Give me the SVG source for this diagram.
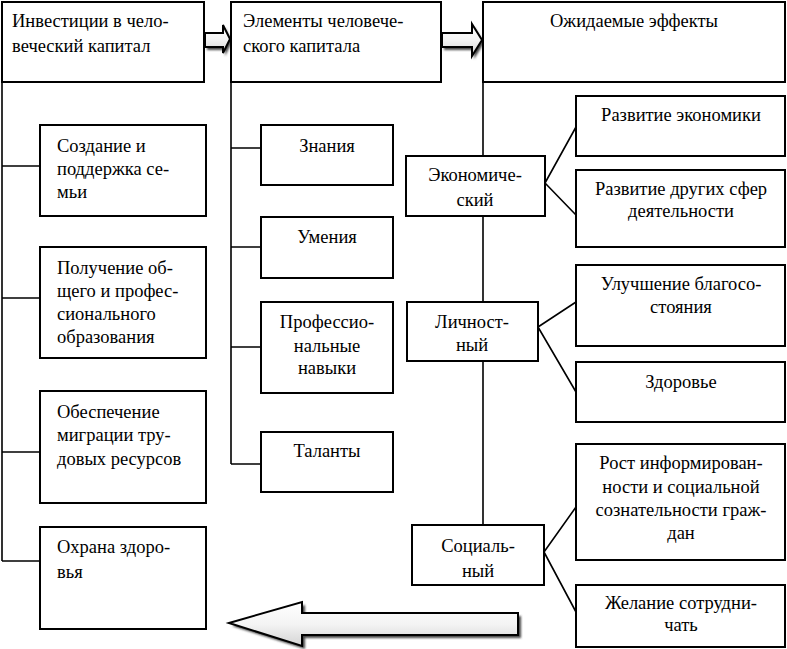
<svg xmlns="http://www.w3.org/2000/svg" width="787" height="649" viewBox="0 0 787 649">
<defs>
<linearGradient id="ag" x1="0" y1="0" x2="0" y2="1">
<stop offset="0" stop-color="#ffffff"/>
<stop offset="0.5" stop-color="#f4f4f4"/>
<stop offset="1" stop-color="#d4d4d4"/>
</linearGradient>
<filter id="sh" x="-10%" y="-30%" width="130%" height="180%">
<feGaussianBlur stdDeviation="1"/>
</filter>
</defs>
<style>
.b{fill:#fff;stroke:#000;stroke-width:2}
.c{stroke:#000;stroke-width:1.6;fill:none}
.t text{font-size:18.5px;fill:#000}
.m{text-anchor:middle}
.arr{fill:url(#ag);stroke:#000;stroke-width:2;stroke-linejoin:miter}
.shd{fill:#444;filter:url(#sh)}
</style>
<rect width="787" height="649" fill="#fff"/>

<g id="connectors">
<path class="c" d="M2,82 V561 M2,166 H40 M2,298 H40 M2,452 H40 M2,561 H40"/>
<path class="c" d="M231,82 V464 M231,148 H261 M231,247 H261 M231,347 H261 M231,464 H261"/>
<path class="c" d="M483,82 V156 M483,216 V302 M483,361 V525"/>
<path class="c" d="M545,183 L576,127 M545,183 L576,215"/>
<path class="c" d="M538,327 L576,302 M538,327 L576,392"/>
<path class="c" d="M544,552 L576,507 M544,552 L576,612"/>
</g>

<g id="arrow1">
<path class="shd" transform="translate(2,3)" d="M205,33 H223 V25 L230,39 L223,53 V47 H205 Z"/>
<path class="arr" d="M205,33 H223 V25 L230,39 L223,53 V47 H205 Z"/>
</g>
<g id="arrow2">
<path class="shd" transform="translate(2,3)" d="M442,33 H472 V24 L482,40 L472,56 V47 H442 Z"/>
<path class="arr" d="M442,33 H472 V24 L482,40 L472,56 V47 H442 Z"/>
</g>
<g id="arrow-bottom">
<path class="shd" transform="translate(3,3)" d="M229,623 L302,602 V613 H518 V635 H302 V646 Z"/>
<path class="arr" d="M229,623 L302,602 V613 H518 V635 H302 V646 Z"/>
</g>

<g class="t" font-family="Liberation Serif">
<g id="n-invest">
<rect class="b" x="2" y="2" width="202" height="80"/>
<text x="12" y="27">Инвестиции в чело-</text>
<text x="12" y="52">веческий капитал</text>
</g>
<g id="n-elements">
<rect class="b" x="231" y="2" width="210" height="80"/>
<text x="243" y="27">Элементы человече-</text>
<text x="243" y="52">ского капитала</text>
</g>
<g id="n-effects">
<rect class="b" x="483" y="2" width="302" height="80"/>
<text class="m" x="634" y="27">Ожидаемые эффекты</text>
</g>

<g id="n-family">
<rect class="b" x="40" y="125" width="166" height="91"/>
<text x="57" y="152">Создание и</text>
<text x="57" y="175">поддержка се-</text>
<text x="57" y="198">мьи</text>
</g>
<g id="n-education">
<rect class="b" x="40" y="247" width="166" height="111"/>
<text x="57" y="274">Получение об-</text>
<text x="57" y="297">щего и профес-</text>
<text x="57" y="320">сионального</text>
<text x="57" y="343">образования</text>
</g>
<g id="n-migration">
<rect class="b" x="40" y="391" width="166" height="112"/>
<text x="57" y="418">Обеспечение</text>
<text x="57" y="441">миграции тру-</text>
<text x="57" y="465">довых ресурсов</text>
</g>
<g id="n-health-care">
<rect class="b" x="40" y="527" width="166" height="102"/>
<text x="57" y="553">Охрана здоро-</text>
<text x="57" y="578">вья</text>
</g>

<g id="n-knowledge">
<rect class="b" x="261" y="125" width="132" height="60"/>
<text class="m" x="327" y="152">Знания</text>
</g>
<g id="n-skills">
<rect class="b" x="261" y="217" width="132" height="61"/>
<text class="m" x="327" y="243">Умения</text>
</g>
<g id="n-prof">
<rect class="b" x="261" y="302" width="132" height="91"/>
<text class="m" x="327" y="328">Профессио-</text>
<text class="m" x="327" y="352">нальные</text>
<text class="m" x="327" y="374">навыки</text>
</g>
<g id="n-talents">
<rect class="b" x="261" y="432" width="132" height="60"/>
<text class="m" x="327" y="457">Таланты</text>
</g>

<g id="n-econ">
<rect class="b" x="406" y="156" width="139" height="60"/>
<text class="m" x="475" y="181">Экономиче-</text>
<text class="m" x="475" y="206">ский</text>
</g>
<g id="n-personal">
<rect class="b" x="407" y="302" width="131" height="59"/>
<text class="m" x="472" y="328">Личност-</text>
<text class="m" x="472" y="351">ный</text>
</g>
<g id="n-social">
<rect class="b" x="412" y="525" width="132" height="60"/>
<text class="m" x="478" y="552">Социаль-</text>
<text class="m" x="478" y="577">ный</text>
</g>

<g id="n-econ-dev">
<rect class="b" x="576" y="96" width="209" height="60"/>
<text class="m" x="681" y="121">Развитие экономики</text>
</g>
<g id="n-other-dev">
<rect class="b" x="576" y="170" width="209" height="77"/>
<text class="m" x="681" y="195">Развитие других сфер</text>
<text class="m" x="681" y="217">деятельности</text>
</g>
<g id="n-welfare">
<rect class="b" x="576" y="265" width="209" height="81"/>
<text class="m" x="681" y="290">Улучшение благосо-</text>
<text class="m" x="681" y="313">стояния</text>
</g>
<g id="n-health">
<rect class="b" x="576" y="362" width="209" height="60"/>
<text class="m" x="681" y="388">Здоровье</text>
</g>
<g id="n-awareness">
<rect class="b" x="576" y="444" width="209" height="116"/>
<text class="m" x="681" y="469">Рост информирован-</text>
<text class="m" x="681" y="493">ности и социальной</text>
<text class="m" x="681" y="516">сознательности граж-</text>
<text class="m" x="681" y="539">дан</text>
</g>
<g id="n-cooperate">
<rect class="b" x="576" y="585" width="209" height="62"/>
<text class="m" x="681" y="609">Желание сотрудни-</text>
<text class="m" x="681" y="631">чать</text>
</g>
</g>
</svg>
